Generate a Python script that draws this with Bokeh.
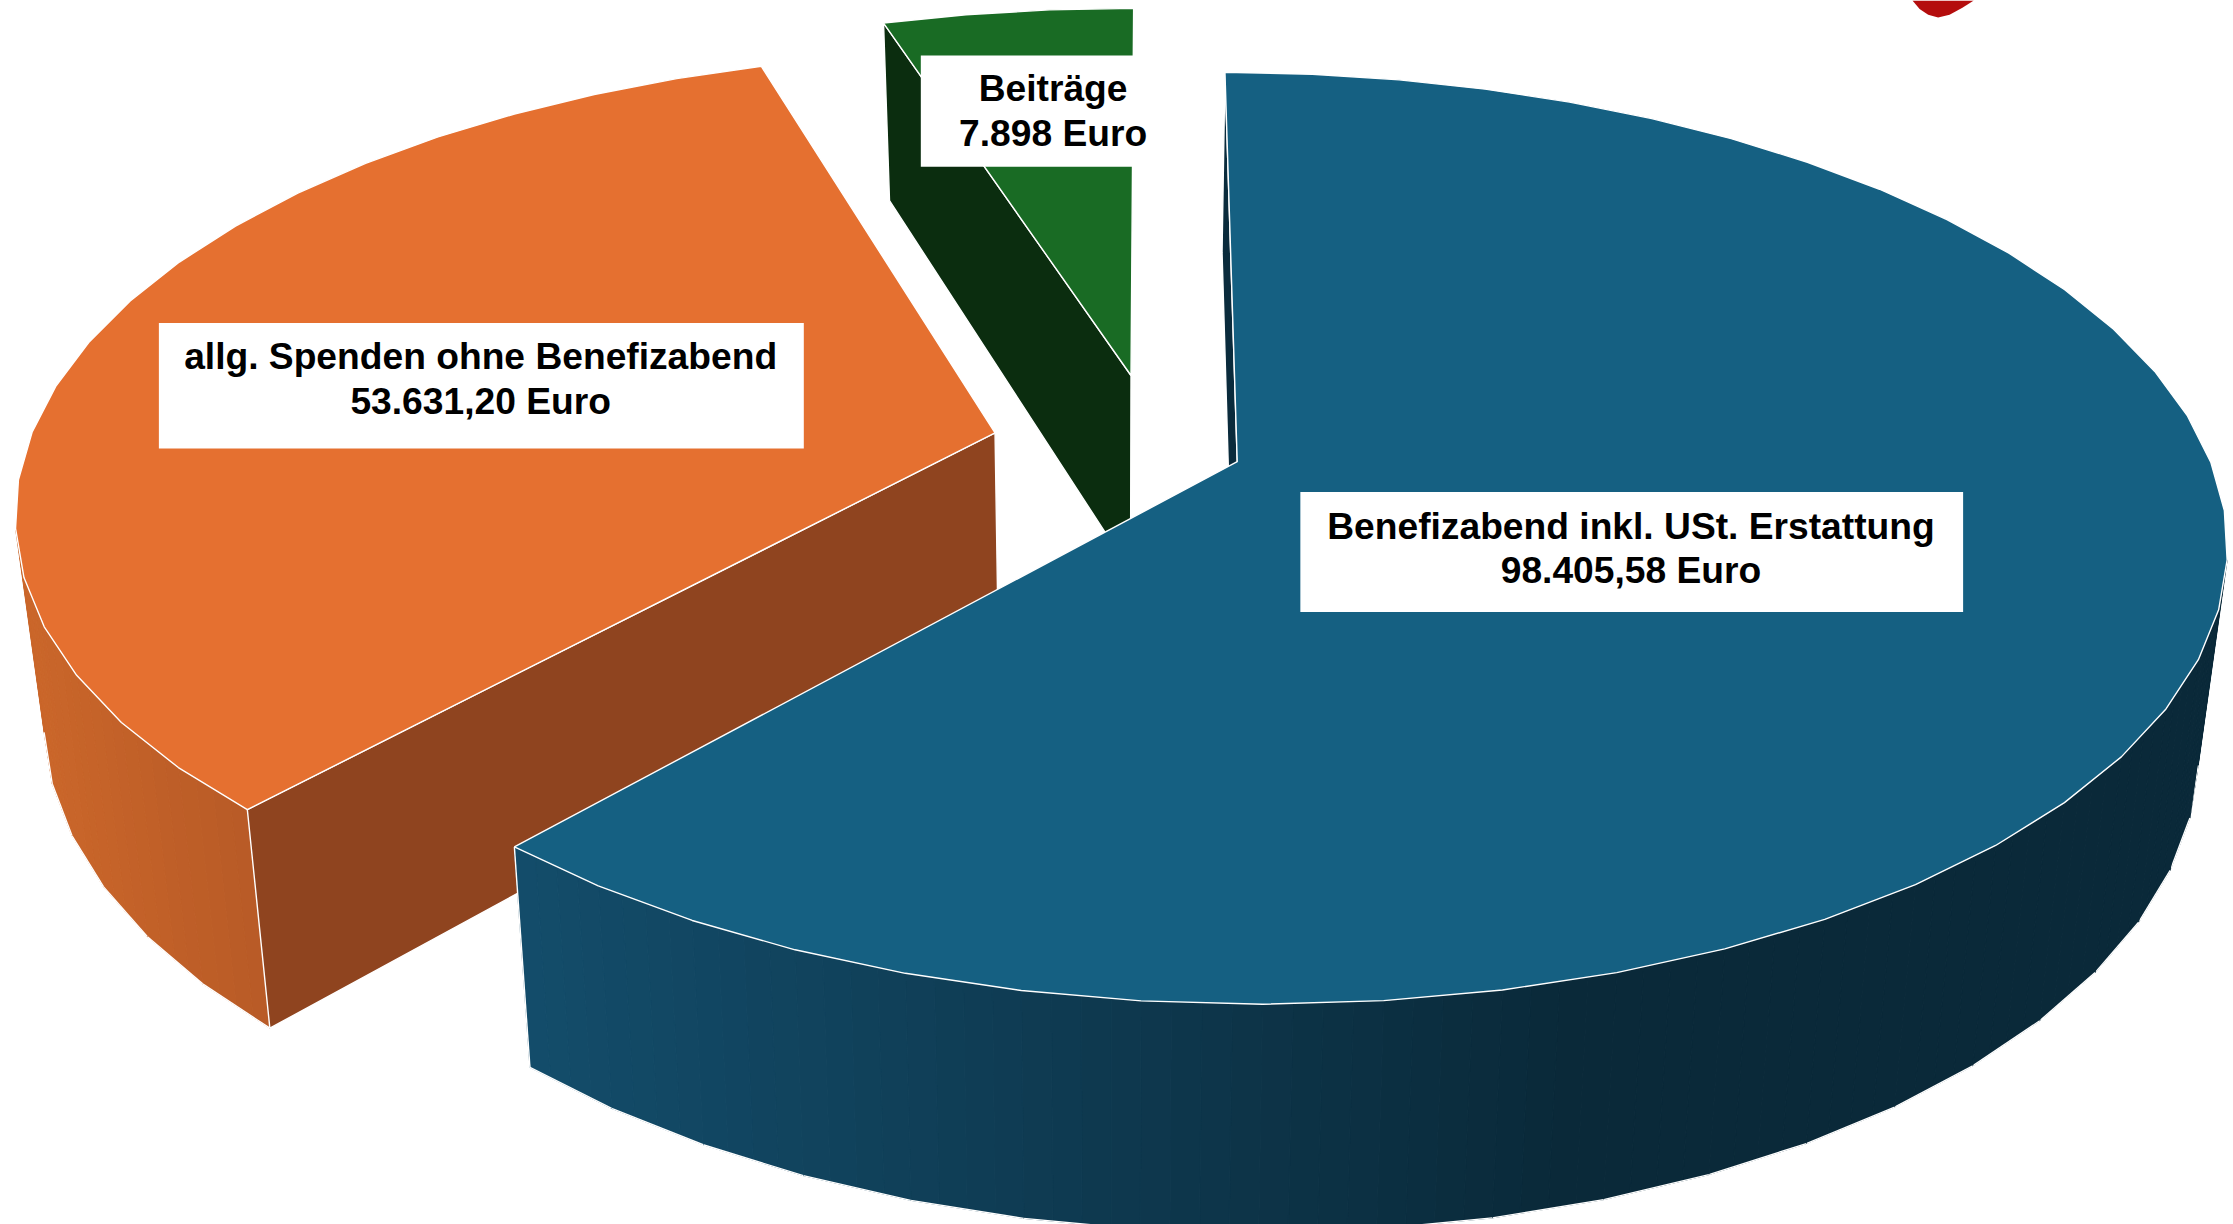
import math
from bokeh.plotting import figure
from bokeh.embed import file_html
from bokeh.resources import INLINE
from bokeh.core.properties import value

# ---- data ----
CATEGORIES = ["Benefizabend inkl. USt. Erstattung", "allg. Spenden ohne Benefizabend", "Beiträge"]
AMOUNTS = [98405.58, 53631.20, 7898.0]
AMOUNT_LABELS = ["98.405,58 Euro", "53.631,20 Euro", "7.898 Euro"]

# ---- styles ----
TOP = ["#156082", "#E57030", "#196B24"]
CUT = ["#0A2B3C", "#8F441F", "#0B2D0F"]
SIDE_L = [(0x13, 0x4C, 0x6A), (0xCA, 0x66, 0x2A), (0x0B, 0x2D, 0x0F)]
SIDE_R = [(0x0A, 0x29, 0x39), (0xB6, 0x59, 0x26), (0x0B, 0x2D, 0x0F)]
SIDE_X = [(372, 1100), (20, 190), (620, 800)]

# ---- layout (expressed in a 1565-wide design space) ----
S = 2233 / 1565
X0, Y0 = 784, 308.5
A, B, K = 677, 313, 0.163
EXPLODE = [0.13, 0.13, 0.15]
EXPLODE_TURN = [0.0, -4.5, 13.4]
START = 0.3
STEP = 6.0
DEPTH0, DEPTH_SLOPE, XS, XC = 124.5, 0.052, 0.026, 780
BOXES = [(911, 344.5, 1375.5, 428.5), (111, 226, 563, 314), (645, 38.5, 831, 116.5)]
TEXT_POS = [(1142.7, 368, 399), (336.5, 249.5, 281), (737.7, 61.5, 93)]
FONT_PX = 26.1 * S
RED_X = [1340, 1345, 1351, 1358, 1366, 1375, 1383]
RED_Y = [0, 6, 10, 12, 10, 5, 0]


def proj(u, v):
    w = 1 - K * v
    return X0 + A * u / w, Y0 + B * v / w


def lower(x, y):
    return x - XS * (x - XC), y + DEPTH0 + DEPTH_SLOPE * (y - 16)


def sc(pts):
    return [q[0] * S for q in pts], [q[1] * S for q in pts]


p = figure(width=2233, height=1224, x_range=(0, 2233), y_range=(1224, 0),
           output_backend="svg", toolbar_location=None, min_border=0,
           outline_line_color=None, background_fill_color="white")
p.axis.visible = False
p.grid.visible = False

total = sum(AMOUNTS)
slices = []
a0 = START
for idx, amt in enumerate(AMOUNTS):
    sweep = 360 * amt / total
    a1 = a0 + sweep
    mid = math.radians((a0 + a1) / 2 + EXPLODE_TURN[idx])
    cu, cv = EXPLODE[idx] * math.sin(mid), -EXPLODE[idx] * math.cos(mid)
    n = max(2, int(round(sweep / STEP)))
    rim = []
    for i in range(n + 1):
        t = math.radians(a0 + sweep * i / n)
        rim.append(proj(cu + math.sin(t), cv - math.cos(t)))
    slices.append((proj(cu, cv), rim))
    a0 = a1


def side_colour(i, x):
    xl, xr = SIDE_X[i]
    f = min(1, max(0, (x - xl) / (xr - xl)))
    c = [int(round(SIDE_L[i][k] + f * (SIDE_R[i][k] - SIDE_L[i][k]))) for k in range(3)]
    return "#%02x%02x%02x" % tuple(c)


def lerp(a, b, f):
    return (a[0] + f * (b[0] - a[0]), a[1] + f * (b[1] - a[1]))


WHITE = dict(line_color="white", line_width=1.4)

# draw order: green, orange, blue (back to front)
for i in [2, 1, 0]:
    apex, rim = slices[i]
    rim_b = [lower(*q) for q in rim]
    apex_b = lower(*apex)
    # outer wall (only the part facing the viewer) with horizontal shading
    for j in range(len(rim) - 1):
        if rim_b[j + 1][0] >= rim_b[j][0] and rim[j + 1][0] >= rim[j][0]:
            continue
        for s in range(4):
            f0, f1 = s / 4, (s + 1) / 4
            a, b = lerp(rim[j], rim[j + 1], f0), lerp(rim[j], rim[j + 1], f1)
            c, d = lerp(rim_b[j], rim_b[j + 1], f1), lerp(rim_b[j], rim_b[j + 1], f0)
            col = side_colour(i, (a[0] + b[0]) / 2)
            xs, ys = sc([a, b, c, d])
            p.patch(xs, ys, fill_color=col, line_color=col, line_width=1.0)
        xs, ys = sc([rim_b[j], rim_b[j + 1]])
        p.line(xs, ys, **WHITE)
    # the cut face that looks towards the viewer
    xs, ys = sc([apex, rim[0], rim_b[0], apex_b])
    p.patch(xs, ys, fill_color=CUT[i], **WHITE)
    # top
    xs, ys = sc([apex] + rim)
    p.patch(xs, ys, fill_color=TOP[i], **WHITE)

# front vertical edge of the blue slice's end
apex, rim = slices[0]
xs, ys = sc([rim[-1], lower(*rim[-1])])
p.line(xs, ys, **WHITE)

# decorative fragment of the red element cut by the top edge
p.patch([x * S for x in RED_X], [y * S for y in RED_Y], fill_color="#B40D0D", line_color=None)

# labels
for i in range(3):
    l, t, r, b = BOXES[i]
    p.quad(left=[l * S], right=[r * S], top=[t * S], bottom=[b * S],
           fill_color="white", line_color=None)
    cx, y1, y2 = TEXT_POS[i]
    p.text(x=[cx * S, cx * S], y=[y1 * S, y2 * S], text=[CATEGORIES[i], AMOUNT_LABELS[i]],
           text_font=value("Liberation Sans"), text_font_style="bold",
           text_font_size=f"{FONT_PX:.1f}px", text_color="black",
           text_align="center", text_baseline="middle")

open("out.html", "w").write(file_html(p, INLINE))
